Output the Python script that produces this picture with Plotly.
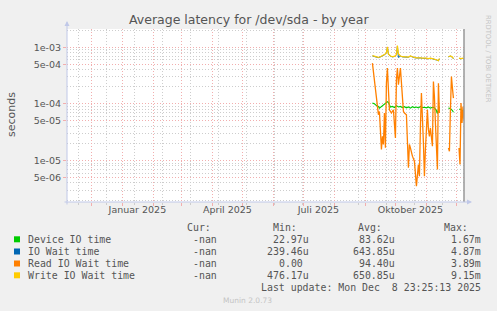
import plotly.graph_objects as go

# ---------------- data ----------------
read_dates = ["2025-09-08", "2025-09-10", "2025-09-12", "2025-09-14", "2025-09-15", "2025-09-16",
              "2025-09-17", "2025-09-18", "2025-09-19", "2025-09-20", "2025-09-21", "2025-09-22",
              "2025-09-23", "2025-09-24", "2025-09-25", "2025-09-27", "2025-09-29", "2025-10-01",
              "2025-10-02", "2025-10-03", "2025-10-04", "2025-10-06", "2025-10-07", "2025-10-09",
              "2025-10-10", "2025-10-12", "2025-10-14", "2025-10-15", "2025-10-16", "2025-10-18",
              "2025-10-20", "2025-10-21", "2025-10-22", "2025-10-24", "2025-10-25", "2025-10-26",
              "2025-10-27", "2025-10-29", "2025-10-30", "2025-10-31", "2025-11-02", "2025-11-03",
              "2025-11-04", "2025-11-05", "2025-11-07", "2025-11-08", "2025-11-09", "2025-11-10",
              "2025-11-12", "2025-11-13", "2025-11-14", "2025-11-18", "2025-11-23", "2025-11-24",
              "2025-11-25", "2025-11-26", "2025-11-27", "2025-11-28", "2025-12-01",
              "2025-12-03 14:00", "2025-12-04 14:00", "2025-12-05 14:00", "2025-12-06 14:00",
              "2025-12-07 14:00", "2025-12-08 12:00"]
read_vals = [5.23e-4, 2.65e-4, 1.10e-4, 6.43e-5, 7.35e-5, 3.50e-5,
             1.56e-5, 2.67e-5, 1.91e-5, 6.89e-5, 1.67e-5, 2.32e-4,
             4.27e-4, 1.77e-4, 7.87e-5, 6.89e-5, 7.87e-5, 2.50e-5,
             2.65e-4, 4.27e-4, 2.17e-4, 4.27e-4, 2.65e-4, 7.35e-5,
             6.89e-5, 6.43e-5, 7.41e-6, 1.91e-5, 1.67e-5, 1.19e-5,
             9.68e-6, 5.27e-6, 3.52e-6, 8.47e-6, 5.27e-6, 4.00e-5,
             1.55e-4, 2.04e-5, 5.27e-6, 1.56e-5, 7.87e-5, 3.50e-5,
             2.67e-5, 3.75e-5, 1.78e-5, 2.48e-4, 1.35e-4, 4.59e-5,
             6.92e-6, 2.32e-4, 6.89e-5, None, 1.67e-5, 1.45e-5,
             7.87e-5, 3.03e-4, 1.90e-4, 1.26e-4, None,
             1.67e-5, 8.47e-6, 1.03e-4, 4.59e-5,
             9.0e-5, 5.25e-5]

dev_dates = ["2025-09-08", "2025-09-10", "2025-09-12", "2025-09-14", "2025-09-15", "2025-09-17",
             "2025-09-19", "2025-09-21", "2025-09-23", "2025-09-24", "2025-09-25", "2025-09-26",
             "2025-09-28", "2025-09-30", "2025-10-02", "2025-10-04", "2025-10-06", "2025-10-08",
             "2025-10-10", "2025-10-12", "2025-10-14", "2025-10-16", "2025-10-18", "2025-10-20",
             "2025-10-22", "2025-10-24", "2025-10-26", "2025-10-28", "2025-10-30", "2025-11-01",
             "2025-11-03", "2025-11-05", "2025-11-07", "2025-11-09", "2025-11-11", "2025-11-12",
             "2025-11-13", "2025-11-14", "2025-11-18", "2025-11-23", "2025-11-25", "2025-11-27",
             "2025-11-28", "2025-12-01", "2025-12-03 14:00", "2025-12-05 14:00", "2025-12-06 14:00",
             "2025-12-07 14:00", "2025-12-08 12:00"]
dev_vals = [1.03e-4, 1.0e-4, 9.3e-5, 9.0e-5, 8.4e-5, 9.0e-5,
            9.6e-5, 1.03e-4, 1.09e-4, 1.05e-4, 9.4e-5, 8.8e-5,
            9.0e-5, 8.6e-5, 9.3e-5, 8.8e-5, 9.0e-5, 8.6e-5,
            8.9e-5, 8.5e-5, 8.8e-5, 8.4e-5, 8.9e-5, 8.6e-5,
            8.8e-5, 8.5e-5, 9.0e-5, 8.6e-5, 8.7e-5, 8.5e-5,
            8.8e-5, 8.4e-5, 8.7e-5, 8.5e-5, 7.6e-5, 6.7e-5,
            8.0e-5, 8.8e-5, None, 8.4e-5, 8.3e-5, 7.6e-5,
            7.1e-5, None, 8.0e-5, 8.0e-5, 7.3e-5,
            7.6e-5, 7.4e-5]

write_dates = ["2025-09-08", "2025-09-10", "2025-09-12", "2025-09-14", "2025-09-16", "2025-09-18",
               "2025-09-20", "2025-09-22", "2025-09-23", "2025-09-24", "2025-09-26", "2025-09-28",
               "2025-09-30", "2025-10-02", "2025-10-03", "2025-10-04", "2025-10-06", "2025-10-08",
               "2025-10-10", "2025-10-12", "2025-10-14", "2025-10-16", "2025-10-18", "2025-10-20",
               "2025-10-22", "2025-10-24", "2025-10-26", "2025-10-28", "2025-10-30", "2025-11-01",
               "2025-11-03", "2025-11-05", "2025-11-07", "2025-11-09", "2025-11-11", "2025-11-13",
               "2025-11-14", "2025-11-18", "2025-11-23", "2025-11-25", "2025-11-27", "2025-11-28",
               "2025-12-01", "2025-12-03 14:00", "2025-12-05 14:00", "2025-12-07 14:00",
               "2025-12-08 12:00"]
write_vals = [7.1e-4, 6.9e-4, 6.8e-4, 6.6e-4, 6.8e-4, 7.0e-4,
              7.4e-4, 8.0e-4, 1.02e-3, 7.6e-4, 7.0e-4, 6.8e-4,
              6.9e-4, 7.4e-4, 1.07e-3, 7.6e-4, 7.0e-4, 6.8e-4,
              6.7e-4, 6.6e-4, 6.7e-4, 7.0e-4, 6.7e-4, 6.6e-4,
              6.5e-4, 6.6e-4, 6.5e-4, 6.4e-4, 6.5e-4, 6.4e-4,
              6.3e-4, 6.4e-4, 6.3e-4, 6.2e-4, 6.0e-4, 5.8e-4,
              6.3e-4, None, 6.8e-4, 7.0e-4, 6.7e-4, 6.3e-4,
              None, 6.4e-4, 6.3e-4, 6.4e-4,
              6.3e-4]

iowait_dates = write_dates
iowait_vals = [7.0e-4, 6.85e-4, 6.75e-4, 6.55e-4, 6.75e-4, 6.95e-4,
               7.35e-4, 7.9e-4, 1.0e-3, 7.5e-4, 6.95e-4, 6.75e-4,
               6.85e-4, 7.3e-4, 1.05e-3, 6.6e-4, 6.95e-4, 6.75e-4,
               6.65e-4, 6.55e-4, 6.65e-4, 6.95e-4, 6.65e-4, 6.55e-4,
               6.45e-4, 6.55e-4, 6.45e-4, 6.35e-4, 6.45e-4, 6.35e-4,
               6.25e-4, 6.35e-4, 6.25e-4, 6.15e-4, 5.95e-4, 5.75e-4,
               6.25e-4, None, 6.75e-4, 6.95e-4, 6.65e-4, 6.25e-4,
               None, 6.35e-4, 6.25e-4, 6.35e-4,
               6.25e-4]

series_names = ["Device IO time", "IO Wait time", "Read IO Wait time", "Write IO Wait time"]
series_colors = ["#00CC00", "#0066B3", "#FF8000", "#FFCC00"]
series_widths = [1.1, 1.0, 1.3, 1.2]
cur_vals = ["-nan", "-nan", "-nan", "-nan"]
min_vals = ["22.97u", "239.46u", "0.00\u00a0", "476.17u"]
avg_vals = ["83.62u", "643.85u", "94.40u", "650.85u"]
max_vals = ["1.67m", "4.87m", "3.89m", "9.15m"]

month_ticks = ["2024-12-01", "2025-01-01", "2025-02-01", "2025-03-01", "2025-04-01", "2025-05-01",
               "2025-06-01", "2025-07-01", "2025-08-01", "2025-09-01", "2025-10-01", "2025-11-01",
               "2025-12-01"]
label_ticks = ["2025-01-16", "2025-04-16", "2025-07-16", "2025-10-16"]
label_text = ["Januar 2025", "April 2025", "Juli 2025", "Oktober 2025"]
y_tickvals = [5e-6, 1e-5, 5e-5, 1e-4, 5e-4, 1e-3]
y_ticktext = ["5e-06", "1e-05", "5e-05", "1e-04", "5e-04", "1e-03"]
y_minorvals = [2e-6, 3e-6, 4e-6, 6e-6, 7e-6, 8e-6, 9e-6,
               2e-5, 3e-5, 4e-5, 6e-5, 7e-5, 8e-5, 9e-5,
               2e-4, 3e-4, 4e-4, 6e-4, 7e-4, 8e-4, 9e-4, 2e-3]

X_RANGE = ["2024-11-06 14:00", "2025-12-08 14:00"]

# ---------------- layout helpers ----------------
W, H = 497, 311
L, R, T, B = 67, 464, 29, 202


def px(x):
    return (x - L) / (R - L)


def py(y):
    return (B - y) / (B - T)


MAJOR_GRID = "#F2AEAE"
MINOR_GRID = "#CDCDCD"
TXT = "#555555"
AXIS = "#C0C8E8"

fig = go.Figure()
series = [(dev_dates, dev_vals), (iowait_dates, iowait_vals), (read_dates, read_vals), (write_dates, write_vals)]
for (d, v), name, col, lw in zip(series, series_names, series_colors, series_widths):
    fig.add_trace(go.Scatter(x=d, y=v, mode="lines", name=name, line=dict(color=col, width=lw),
                             connectgaps=False, showlegend=False, hoverinfo="skip"))

# invisible helper trace for label axis
fig.add_trace(go.Scatter(x=read_dates, y=read_vals, xaxis="x2", mode="lines", opacity=0,
                         line=dict(width=0), showlegend=False, hoverinfo="skip"))

fig.update_layout(
    width=W, height=H,
    margin=dict(l=L, r=W - R, t=T, b=H - B, pad=0),
    paper_bgcolor="#F0F0F0", plot_bgcolor="#FFFFFF",
    font=dict(family="DejaVu Sans", size=9.5, color=TXT),
    xaxis=dict(type="date", range=X_RANGE, tickmode="array", tickvals=month_ticks,
               ticktext=[""] * len(month_ticks), showticklabels=False,
               showgrid=True, gridcolor=MAJOR_GRID, griddash="1px,2px", gridwidth=1,
               ticks="outside", ticklen=3, tickcolor=MAJOR_GRID, showline=False, zeroline=False,
               minor=dict(tick0="2024-11-18", dtick=28 * 86400000, showgrid=True,
                          gridcolor=MINOR_GRID, griddash="1px,2px", gridwidth=1,
                          ticks="outside", ticklen=2, tickcolor=MINOR_GRID)),
    xaxis2=dict(type="date", range=X_RANGE, overlaying="x", anchor="y", side="bottom",
                tickmode="array", tickvals=label_ticks, ticktext=label_text,
                showgrid=False, ticks="", showline=False, zeroline=False,
                tickfont=dict(family="DejaVu Sans", size=9.5, color=TXT)),
    yaxis=dict(type="log", range=[-5.734, -2.678], tickmode="array", tickvals=y_tickvals,
               ticktext=y_ticktext, showgrid=True, gridcolor=MAJOR_GRID, griddash="1px,2px",
               gridwidth=1, ticks="outside", ticklen=3, tickcolor=MAJOR_GRID, zeroline=False,
               showline=False, tickfont=dict(family="DejaVu Sans", size=9.5, color=TXT),
               minor=dict(tickmode="array", tickvals=y_minorvals, showgrid=True,
                          gridcolor=MINOR_GRID, griddash="1px,2px", gridwidth=1)),
)

ann = []
ann.append(dict(text="Average latency for /dev/sda - by year", x=px(248.7), y=py(19.5),
                font=dict(family="DejaVu Sans", size=12.5, color=TXT)))
ann.append(dict(text="seconds", x=px(11), y=py(115), textangle=-90,
                font=dict(family="DejaVu Sans", size=11, color=TXT)))
ann.append(dict(text="RRDTOOL / TOBI OETIKER", x=px(488.5), y=py(58.5), textangle=90,
                font=dict(family="DejaVu Sans", size=6.8, color="#C4C4C4")))

MONO = "DejaVu Sans Mono"
LF = 9.9
header_y = 227.7
for txt, xr in [("Cur:", 212.7), ("Min:", 299.3), ("Avg:", 384.0), ("Max:", 470.0)]:
    ann.append(dict(text=txt, x=px(xr), y=py(header_y), xanchor="right",
                    font=dict(family=MONO, size=LF, color=TXT)))

row_y = [239.3, 251.5, 263.5, 275.3]
for i, name in enumerate(series_names):
    yy = row_y[i]
    ann.append(dict(text=name, x=px(26), y=py(yy), xanchor="left",
                    font=dict(family=MONO, size=LF, color=TXT)))
    for vals, xr in [(cur_vals, 219.3), (min_vals, 310.7), (avg_vals, 396.7), (max_vals, 482.7)]:
        ann.append(dict(text=vals[i], x=px(xr), y=py(yy), xanchor="right",
                        font=dict(family=MONO, size=LF, color=TXT)))

ann.append(dict(text="Last update: Mon Dec\u00a0\u00a08 23:25:13 2025", x=px(482.7), y=py(287.7),
                xanchor="right", font=dict(family=MONO, size=LF, color=TXT)))
ann.append(dict(text="Munin 2.0.73", x=px(247.8), y=py(300.3),
                font=dict(family="DejaVu Sans", size=7.5, color="#C4C4C4")))

for a in ann:
    a.setdefault("xref", "paper")
    a.setdefault("yref", "paper")
    a.setdefault("showarrow", False)
    a.setdefault("xanchor", "center")
    a.setdefault("yanchor", "middle")

# axis lines with arrows
ann.append(dict(x=px(67), y=py(21), xref="paper", yref="paper", ax=0, ay=185, text="",
                showarrow=True, arrowhead=2, arrowsize=1, arrowwidth=1, arrowcolor=AXIS))
ann.append(dict(x=px(472), y=py(202), xref="paper", yref="paper", ax=-409, ay=0, text="",
                showarrow=True, arrowhead=2, arrowsize=1, arrowwidth=1, arrowcolor=AXIS))

fig.update_layout(annotations=ann)

shapes = []
for i, col in enumerate(series_colors):
    yy = row_y[i]
    shapes.append(dict(type="rect", xref="paper", yref="paper", x0=px(14), x1=px(20),
                       y0=py(yy + 3), y1=py(yy - 3), fillcolor=col, line=dict(width=0)))
shapes.append(dict(type="line", xref="paper", yref="paper", x0=1, x1=1, y0=0, y1=1,
                   line=dict(color="#999999", width=1.5)))
fig.update_layout(shapes=shapes)

fig.write_html("out.html")
